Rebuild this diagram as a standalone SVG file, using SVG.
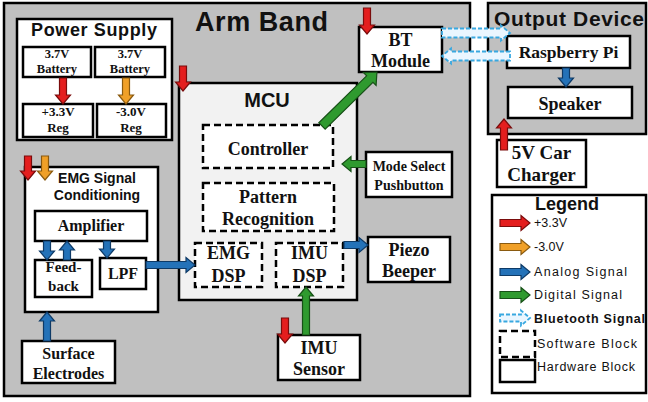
<svg xmlns="http://www.w3.org/2000/svg" width="648" height="402" viewBox="0 0 648 402">
<style>
.box{fill:#fff;stroke:#000;stroke-width:2.5}
.gray{fill:#c0c0c0;stroke:#000;stroke-width:2.5}
.mcu{fill:#f2f2f2;stroke:#000;stroke-width:2.5}
.dash{fill:#fff;stroke:#000;stroke-width:2.5;stroke-dasharray:7,4}
.t{font-family:"Liberation Serif","Times New Roman",serif;font-weight:bold;text-anchor:middle;fill:#111}
.s{font-family:"Liberation Sans",Arial,sans-serif;font-weight:bold;fill:#111}
.l{font-family:"Liberation Sans",Arial,sans-serif;font-size:12.5px;fill:#111}
.red{fill:#e41e1e;stroke:#7a0c0c;stroke-width:1.2}
.org{fill:#f0a028;stroke:#8a5a10;stroke-width:1.2}
.blu{fill:#2472b8;stroke:#0e3a66;stroke-width:1.2}
.grn{fill:#2f9a2f;stroke:#175017;stroke-width:1.2}
.bt{fill:#eaf6ff;stroke:#38a8e0;stroke-width:1.8;stroke-dasharray:4,2}
</style>
<rect width="648" height="402" fill="#fff"/>

<g id="arm-band">
<rect class="gray" x="4" y="3" width="466" height="393"/>
<text class="s" x="195" y="31" font-size="27" textLength="133">Arm Band</text>
</g>

<g id="output-device">
<rect class="gray" x="488" y="3" width="158" height="131"/>
<text class="s" x="494" y="26" font-size="21" textLength="150">Output Device</text>
</g>

<g id="power-supply">
<rect class="box" x="17" y="19" width="155" height="121"/>
<text class="s" x="94" y="36" font-size="18" text-anchor="middle" textLength="126">Power Supply</text>
<g id="battery1"><rect class="box" x="23" y="47" width="68" height="30"/>
<text class="t" x="57" y="58" font-size="12.5" font-weight="normal">3.7V</text>
<text class="t" x="57" y="73" font-size="12.5" font-weight="normal">Battery</text></g>
<g id="battery2"><rect class="box" x="95" y="47" width="70" height="30"/>
<text class="t" x="130" y="58" font-size="12.5" font-weight="normal">3.7V</text>
<text class="t" x="130" y="73" font-size="12.5" font-weight="normal">Battery</text></g>
<g id="reg-pos"><rect class="box" x="23" y="104" width="70" height="33"/>
<text class="t" x="58" y="116" font-size="13" font-weight="normal">+3.3V</text>
<text class="t" x="58" y="132" font-size="13" font-weight="normal">Reg</text></g>
<g id="reg-neg"><rect class="box" x="97" y="104" width="69" height="33"/>
<text class="t" x="131" y="116" font-size="13" font-weight="normal">-3.0V</text>
<text class="t" x="131" y="132" font-size="13" font-weight="normal">Reg</text></g>
</g>

<g id="bt-module">
<rect class="box" x="359" y="27" width="83" height="45"/>
<text class="t" x="400.5" y="46" font-size="18">BT</text>
<text class="t" x="400.5" y="67" font-size="18">Module</text>
</g>

<g id="mcu">
<rect class="mcu" x="179" y="83" width="178" height="217"/>
<text class="s" x="267" y="107" font-size="20" text-anchor="middle">MCU</text>
</g>

<g id="controller">
<rect class="dash" x="203" y="125" width="130" height="43"/>
<text class="t" x="268" y="155" font-size="18">Controller</text>
</g>

<g id="pattern-recognition">
<rect class="dash" x="203" y="183" width="131" height="48"/>
<text class="t" x="268" y="203" font-size="18">Pattern</text>
<text class="t" x="268" y="225" font-size="18">Recognition</text>
</g>

<g id="emg-dsp">
<rect class="dash" x="195" y="243" width="67" height="44"/>
<text class="t" x="228.5" y="259" font-size="18">EMG</text>
<text class="t" x="228.5" y="282" font-size="18">DSP</text>
</g>

<g id="imu-dsp">
<rect class="dash" x="276" y="243" width="67" height="44"/>
<text class="t" x="309.5" y="259" font-size="18">IMU</text>
<text class="t" x="309.5" y="282" font-size="18">DSP</text>
</g>

<g id="mode-select">
<rect class="box" x="366" y="152" width="86" height="45"/>
<text class="t" x="409" y="171" font-size="14">Mode Select</text>
<text class="t" x="409" y="190" font-size="14">Pushbutton</text>
</g>

<g id="piezo-beeper">
<rect class="box" x="368" y="237" width="82" height="45"/>
<text class="t" x="409" y="256" font-size="18">Piezo</text>
<text class="t" x="409" y="277" font-size="18">Beeper</text>
</g>

<g id="imu-sensor">
<rect class="box" x="278" y="335" width="82" height="45"/>
<text class="t" x="319" y="354" font-size="18">IMU</text>
<text class="t" x="319" y="375" font-size="18">Sensor</text>
</g>

<g id="emg-conditioning">
<rect class="box" x="25" y="167" width="133" height="145"/>
<text class="s" x="97" y="183" font-size="14" text-anchor="middle">EMG Signal</text>
<text class="s" x="97" y="200" font-size="14" text-anchor="middle">Conditioning</text>
</g>

<g id="amplifier">
<rect class="box" x="35" y="211" width="112" height="30"/>
<text class="t" x="91" y="231" font-size="16">Amplifier</text>
</g>

<g id="feedback">
<rect class="box" x="35" y="260" width="57" height="37"/>
<text class="t" x="63.5" y="272" font-size="15">Feed-</text>
<text class="t" x="63.5" y="291" font-size="15">back</text>
</g>

<g id="lpf">
<rect class="box" x="100" y="258" width="46" height="31"/>
<text class="t" x="123" y="279" font-size="16">LPF</text>
</g>

<g id="surface-electrodes">
<rect class="box" x="22" y="341" width="93" height="42"/>
<text class="t" x="68.5" y="359" font-size="16">Surface</text>
<text class="t" x="68.5" y="379" font-size="16">Electrodes</text>
</g>

<g id="raspberry-pi">
<rect class="box" x="507" y="36" width="123" height="32"/>
<text class="t" x="568.5" y="58" font-size="17.5">Raspberry Pi</text>
</g>

<g id="speaker">
<rect class="box" x="508" y="87" width="124" height="31"/>
<text class="t" x="570" y="110" font-size="18">Speaker</text>
</g>

<g id="car-charger">
<rect class="box" x="497" y="140" width="89" height="47"/>
<text class="t" x="541.5" y="159" font-size="19">5V Car</text>
<text class="t" x="541.5" y="181" font-size="19">Charger</text>
</g>

<g id="connectors">
<path class="red" d="M59.5,78 V95 H55.5 L63,104 L70.5,95 H66.5 V78 Z"/>
<path class="org" d="M122.5,78 V95 H118.5 L126,104 L133.5,95 H129.5 V78 Z"/>
<path class="red" d="M179.5,66 V82 H175.5 L183,91 L190.5,82 H186.5 V66 Z"/>
<path class="red" d="M363.5,8 V25 H359.5 L367,34 L374.5,25 H370.5 V8 Z"/>
<path class="red" d="M24.5,156 V171 H20.5 L28,180 L35.5,171 H31.5 V156 Z"/>
<path class="org" d="M41.5,156 V171 H37.5 L45,180 L52.5,171 H48.5 V156 Z"/>
<path class="red" d="M281.5,318 V334 H277.5 L285,343 L292.5,334 H288.5 V318 Z"/>
<path class="red" d="M500.5,150 V128 H496.5 L504,119 L511.5,128 H507.5 V150 Z"/>
<path class="blu" d="M43.5,241 V251 H39.5 L47,260 L54.5,251 H50.5 V241 Z"/>
<path class="blu" d="M63.5,260 V250 H59.5 L67,241 L74.5,250 H70.5 V260 Z"/>
<path class="blu" d="M103.5,241 V249 H99.5 L107,258 L114.5,249 H110.5 V241 Z"/>
<path class="blu" d="M146,261.5 H186 V257.5 L195,265 L186,272.5 V268.5 H146 Z"/>
<path class="blu" d="M43.5,341 V321 H39.5 L47,312 L54.5,321 H50.5 V341 Z"/>
<path class="blu" d="M344,241.5 H359 V237.5 L368,245 L359,252.5 V248.5 H344 Z"/>
<path class="blu" d="M562.5,68 V78 H558.5 L566,87 L573.5,78 H569.5 V68 Z"/>
<path class="grn" d="M366,160.5 H351 V156.5 L342,164 L351,171.5 V167.5 H366 Z"/>
<path class="grn" d="M302.5,335 V296 H298.5 L306,287 L313.5,296 H309.5 V335 Z"/>
<path class="grn" transform="translate(322,126) rotate(-44.5)" d="M0,-4.5 H67 V-9 L77,0 L67,9 V4.5 H0 Z"/>
<path class="bt" d="M442,28.5 H501 V25.5 L510,33 L501,40.5 V37.5 H442 Z"/>
<path class="bt" d="M510,51.5 H451 V48.5 L442,56 L451,63.5 V60.5 H510 Z"/>
</g>

<g id="legend">
<rect class="box" x="492" y="195" width="154" height="198"/>
<text class="s" x="567" y="210" font-size="18" text-anchor="middle">Legend</text>
<path class="red" d="M500,219.5 H521 V215.5 L530,223 L521,230.5 V226.5 H500 Z"/>
<path class="org" d="M500,243.5 H521 V239.5 L530,247 L521,254.5 V250.5 H500 Z"/>
<path class="blu" d="M500,268.5 H521 V264.5 L530,272 L521,279.5 V275.5 H500 Z"/>
<path class="grn" d="M500,291.5 H521 V287.5 L530,295 L521,302.5 V298.5 H500 Z"/>
<path class="bt" d="M500,314.5 H521 V310.5 L530,318 L521,325.5 V321.5 H500 Z"/>
<rect class="dash" x="500" y="331" width="35" height="26" stroke-dasharray="6,3"/>
<rect class="box" x="500" y="360" width="35" height="22"/>
<text class="l" x="534" y="227" font-size="11">+3.3V</text>
<text class="l" x="534" y="251" font-size="11">-3.0V</text>
<text class="l" x="534" y="276" textLength="93">Analog Signal</text>
<text class="l" x="534" y="299" textLength="88">Digital Signal</text>
<text class="l" x="534" y="323" textLength="111" font-weight="bold">Bluetooth Signal</text>
<text class="l" x="537" y="348" textLength="100">Software Block</text>
<text class="l" x="537" y="371" textLength="98">Hardware Block</text>
</g>
</svg>
